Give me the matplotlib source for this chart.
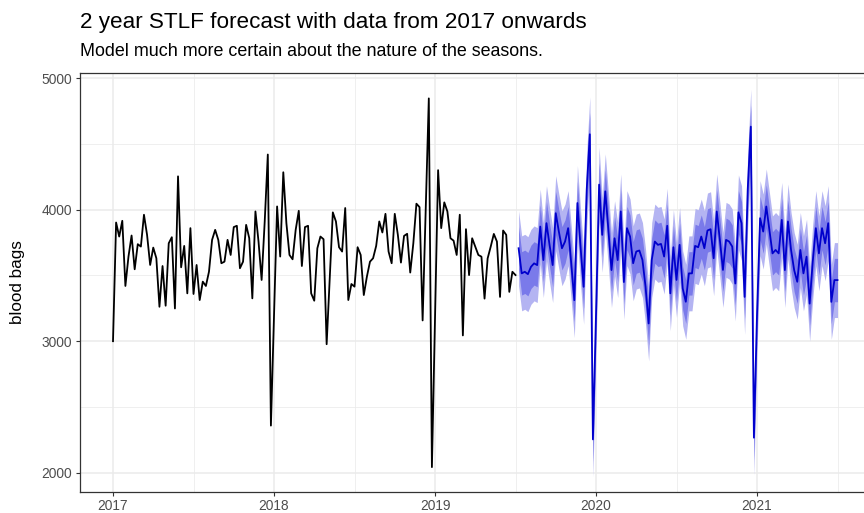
import numpy as np
import matplotlib
matplotlib.use('Agg')
import matplotlib.pyplot as plt

# weekly observed donations, first week of 2017 to mid 2019
hist = [
    3000, 3903, 3796, 3916, 3420, 3644, 3804, 3547, 3738, 3720, 3962, 3809, 3580, 3712, 3631, 3262,
    3572, 3270, 3745, 3791, 3249, 4254, 3562, 3725, 3364, 3860, 3359, 3580, 3313, 3453, 3420, 3529,
    3771, 3847, 3771, 3593, 3605, 3771, 3656, 3868, 3878, 3555, 3605, 3885, 3784, 3326, 3987, 3758,
    3466, 3911, 4420, 2358, 3190, 4025, 3644, 4285, 3898, 3656, 3623, 3847, 3992, 3572, 3868, 3878,
    3364, 3308, 3707, 3796, 3776, 2977, 3480, 3980, 3911, 3715, 3682, 4013, 3313, 3435, 3415, 3715,
    3656, 3351, 3491, 3605, 3631, 3725, 3911, 3827, 3969, 3682, 3593, 3969, 3809, 3598, 3801, 3817,
    3522, 3745, 4046, 4020, 3158, 4000, 4847, 2042, 3170, 4301, 3860, 4056, 3987, 3783, 3765, 3656,
    3962, 3044, 3852, 3503, 3783, 3720, 3656, 3643, 3324, 3630, 3720, 3816, 3758, 3337, 3842, 3809,
    3375, 3528, 3503,
]

# STLF point forecast, 104 weeks ahead
fc_mean = [
    3707, 3516, 3528, 3510, 3566, 3592, 3579, 3872, 3617, 3898, 3732, 3579, 3974, 3834, 3707, 3758,
    3860, 3592, 3312, 4051, 3720, 3414, 4153, 4574, 2253, 3200, 4191, 3809, 4140, 3847, 3541, 3783,
    3617, 3987, 3450, 3860, 3796, 3593, 3682, 3690, 3618, 3415, 3135, 3618, 3758, 3733, 3740, 3644,
    3878, 3364, 3715, 3466, 3733, 3402, 3300, 3516, 3516, 3725, 3715, 3796, 3707, 3842, 3852, 3631,
    3987, 3771, 3542, 3771, 3758, 3720, 3439, 3980, 3898, 3337, 4153, 4632, 2266, 3200, 3936, 3834,
    4025, 3847, 3668, 3694, 3668, 3923, 3541, 3911, 3694, 3541, 3452, 3694, 3516, 3643, 3286, 3605,
    3860, 3668, 3860, 3745, 3898, 3299, 3465, 3465,
]

# half widths of the prediction intervals
pi80 = 165
pi95 = 285

year_ticks = [2017, 2018, 2019, 2020, 2021]
y_ticks = [2000, 3000, 4000, 5000]

hist = np.array(hist)
fc_mean = np.array(fc_mean)
t_hist = 2017 + np.arange(len(hist)) / 52
t_fc = t_hist[-1] + (np.arange(len(fc_mean)) + 1) / 52

plt.rcParams['font.family'] = ['Liberation Sans', 'DejaVu Sans']

fig = plt.figure(figsize=(8.64, 5.13), dpi=100)
ax = fig.add_axes([80 / 864, 21.3 / 513, 795 / 864, 418.4 / 513])

ax.fill_between(t_fc, fc_mean - pi95, fc_mean + pi95, color='#b4b4f2', lw=0)
ax.fill_between(t_fc, fc_mean - pi80, fc_mean + pi80, color='#7a7aea', lw=0)
ax.plot(t_hist, hist, color='black', lw=1.3)
ax.plot(t_fc, fc_mean, color='#0000cc', lw=1.3)

ax.set_xlim(2016.795, 2016.795 + 795 / 161)
ax.set_ylim(1855, 5038)

ax.set_xticks(year_ticks)
ax.set_xticklabels([str(y) for y in year_ticks])
ax.set_xticks([y + 0.5 for y in year_ticks], minor=True)
ax.set_yticks(y_ticks)
ax.set_yticklabels([str(v) for v in y_ticks])
ax.set_yticks([2500, 3500, 4500], minor=True)

ax.grid(which='major', color='#ebebeb', lw=1.1)
ax.grid(which='minor', color='#ebebeb', lw=0.55)
ax.set_axisbelow(True)

ax.tick_params(which='major', length=3, width=0.8, color='#333333', labelcolor='#4d4d4d',
               labelsize=9.9, pad=2.5)
ax.tick_params(which='minor', length=0)
for s in ax.spines.values():
    s.set_color('#333333')
    s.set_linewidth(0.9)

fig.text(80 / 864, 1 - 28 / 513, '2 year STLF forecast with data from 2017 onwards',
         fontsize=16.2, color='black', va='baseline', ha='left')
fig.text(80 / 864, 1 - 56 / 513, 'Model much more certain about the nature of the seasons.',
         fontsize=12.9, color='black', va='baseline', ha='left')
fig.text(18 / 864, 1 - 282 / 513, 'blood bags', fontsize=12.3, rotation=90,
         va='center', ha='center')

fig.savefig('out.png', dpi=100)
